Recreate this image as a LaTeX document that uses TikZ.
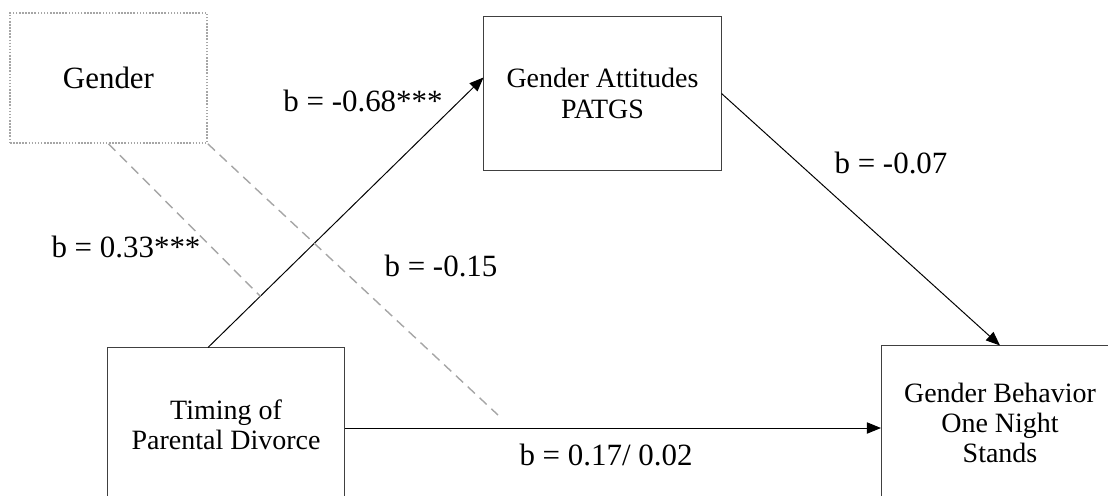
\documentclass[tikz,border=0pt]{standalone}
\usepackage{fontspec}
\setmainfont{Liberation Serif}
\usetikzlibrary{arrows.meta}

\tikzset{
	box/.style={shape=rectangle, draw=black!75, line width=0.7pt, align=center, font=\fontsize{19.9}{21.6}\selectfont, minimum width=5.925cm, minimum height=3.85cm},
	modbox/.style={shape=rectangle, draw=black!35, line width=1.1pt, dash pattern={on 1.1pt off 1.1pt}, font=\fontsize{22}{26}\selectfont, minimum width=4.925cm, minimum height=3.25cm},
	path/.style={line width=0.7pt, -{Triangle[length=10pt, width=8pt]}},
	modline/.style={draw=black!35, line width=1pt, dash pattern={on 7pt off 4.5pt}},
	coef/.style={font=\fontsize{22}{26}\selectfont, inner sep=0pt}
}

\begin{document}
\begin{tikzpicture}[x=0.025cm, y=-0.025cm]
			\useasboundingbox (0, 0) rectangle (1108, 495);
			\node[modbox](Gen) at (108.5, 78){Gender};
			\node[box, minimum height=3.825cm](Att) at (602.5, 93.5){Gender Attitudes\\PATGS};
			\node[box](Tim) at (226, 425){Timing of\\Parental Divorce};
			\node[box](Beh) at (1000, 423){Gender Behavior\\One Night\\Stands};
			\draw[path] ([xshift=-0.45cm]Tim.north) -- coordinate[pos=0.19](Amid) ([yshift=0.4cm]Att.west);
			\draw[path] (Att.east) -- (Beh.north);
			\draw[path] ([yshift=-0.075cm]Tim.east) -- ([yshift=-0.075cm]Tim.east -| Beh.west);
			\coordinate (Cend) at (498, 415);
			\draw[modline] (Gen.south) -- (Amid);
			\draw[modline] (Gen.south east) -- (Cend);
			\node[coef](La) at (363, 101){b = -0.68***};
			\node[coef](Lb) at (891, 163){b = -0.07};
			\node[coef](Lg) at (126, 247){b = 0.33***};
			\node[coef](Lm) at (441, 266){b = -0.15};
			\node[coef](Lc) at (606, 455){b = 0.17/ 0.02};
		\end{tikzpicture}
\end{document}
